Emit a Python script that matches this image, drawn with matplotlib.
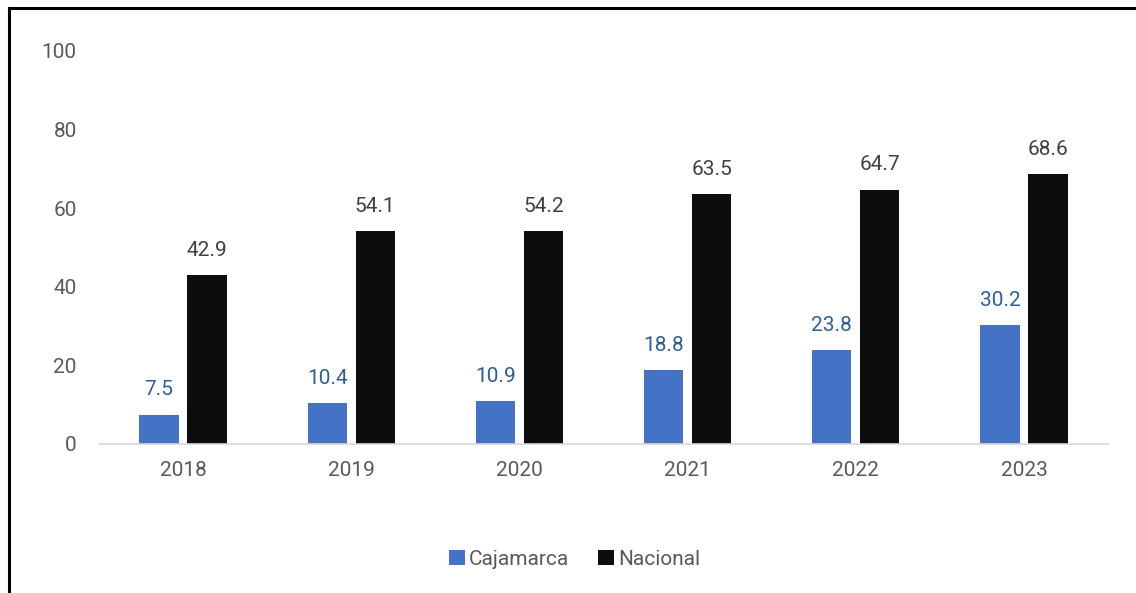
import matplotlib
matplotlib.use("Agg")
import matplotlib.pyplot as plt
from matplotlib.lines import Line2D
import numpy as np

years = ["2018", "2019", "2020", "2021", "2022", "2023"]
cajamarca = [7.5, 10.4, 10.9, 18.8, 23.8, 30.2]
nacional = [42.9, 54.1, 54.2, 63.5, 64.7, 68.6]

BLUE = "#4472C4"
BLACK = "#0d0d0d"
TXT = "#595959"

plt.rcParams["font.family"] = ["Roboto", "DejaVu Sans"]

fig = plt.figure(figsize=(11.36, 5.93), dpi=100)
ax = fig.add_axes([0.0871, 0.2513, 0.8883, 0.6627])

x = np.arange(len(years))
w = 0.233
off = 0.143
b1 = ax.bar(x - off, cajamarca, w, color=BLUE, label="Cajamarca")
b2 = ax.bar(x + off, nacional, w, color=BLACK, label="Nacional")

for rect, v in zip(b1, cajamarca):
    ax.annotate(f"{v:.1f}", (rect.get_x() + rect.get_width() / 2, v),
                xytext=(0, 11), textcoords="offset points", ha="center", va="bottom",
                fontsize=15, color="#2e5e97")
for rect, v in zip(b2, nacional):
    ax.annotate(f"{v:.1f}", (rect.get_x() + rect.get_width() / 2, v),
                xytext=(0, 11), textcoords="offset points", ha="center", va="bottom",
                fontsize=15, color="#404040")

ax.set_xlim(-0.5, len(years) - 0.5)
ax.set_ylim(0, 100)
ax.set_yticks(range(0, 101, 20))
ax.set_xticks(x)
ax.set_xticklabels(years)
ax.tick_params(axis="both", length=0, labelsize=15, colors=TXT)
ax.tick_params(axis="y", pad=16)
ax.tick_params(axis="x", pad=12)
for s in ["top", "right", "left"]:
    ax.spines[s].set_visible(False)
ax.spines["bottom"].set_color("#d9d9d9")
ax.spines["bottom"].set_linewidth(1.2)

fig.legend(handles=[b1, b2], labels=["Cajamarca", "Nacional"], loc="center",
           bbox_to_anchor=(0.506, 0.057), ncol=2, frameon=False, fontsize=15,
           handlelength=0.75, handleheight=0.75, handletextpad=0.2, columnspacing=1.4,
           labelcolor=TXT)

# chart border (top and left edges)
fig.add_artist(Line2D([0.0075, 1.0], [0.9865, 0.9865], color="black", lw=2.2,
                      transform=fig.transFigure))
fig.add_artist(Line2D([0.0075, 0.0075], [0.0, 0.9865], color="black", lw=2.2,
                      transform=fig.transFigure))

fig.savefig("out.png", dpi=100)
